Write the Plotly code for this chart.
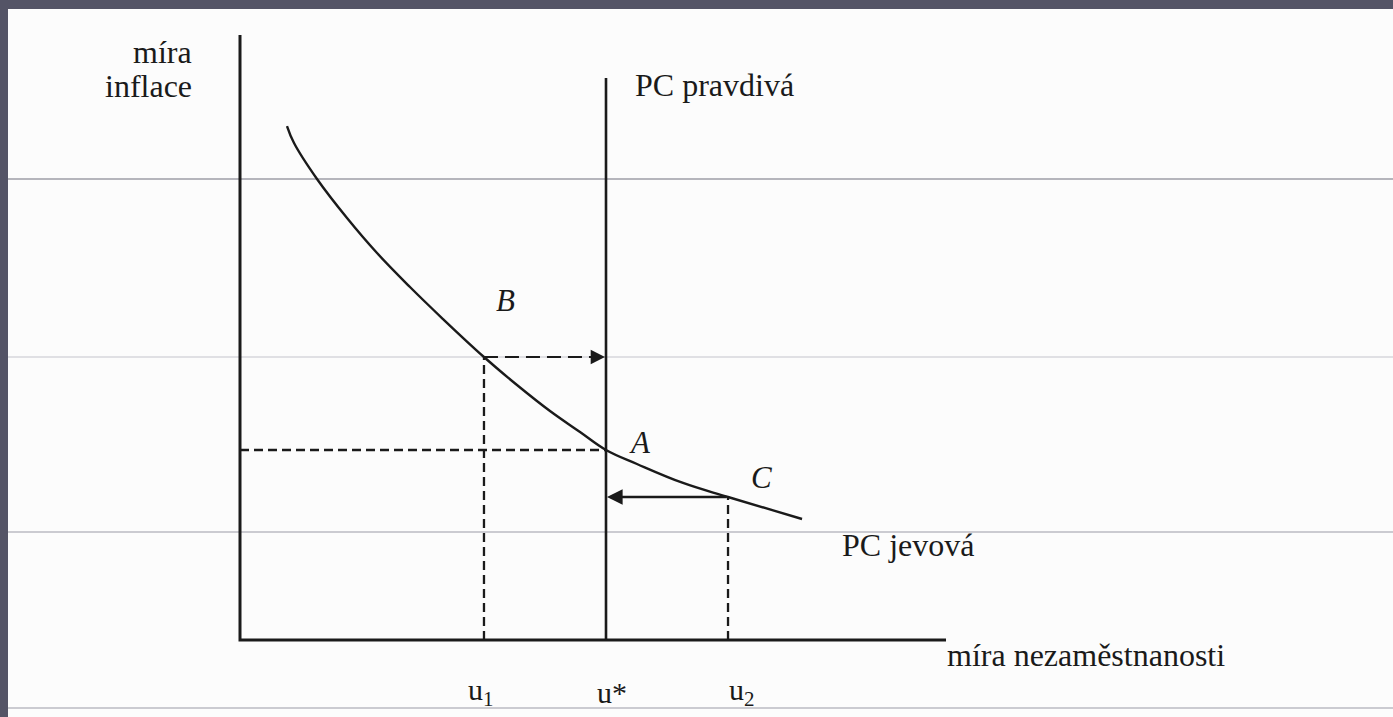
import plotly.graph_objects as go

# ---- data (economic units) ----
curve_u = [0.642, 0.738, 1.052, 1.462, 1.872, 2.322, 2.773, 3.333, 3.784, 4.235,
           4.645, 5.0, 5.423, 6.052, 6.667, 7.678]
curve_pi = [13.526, 13.079, 12.132, 11.105, 10.184, 9.289, 8.447, 7.447, 6.711, 6.026,
            5.474, 5.0, 4.632, 4.132, 3.763, 3.184]
u_labels = ["u<sub>1</sub>", "u*", "u<sub>2</sub>"]
u_values = [3.333, 5.0, 6.667]          # u1, u*, u2
pi_A = 5.0
pi_B = 7.447
pi_C = 3.763
y_axis_top = 15.92
x_axis_end = 9.645
pc_true_top = 14.79

W, H = 1393, 717
# data <-> pixel mapping (origin of the diagram at pixel 240, 640)
X0, KX = 240, 73.2
Y0, KY = 640, 38.0
x_range = [-X0 / KX, (W - X0) / KX]
y_range = [(Y0 - H) / KY, Y0 / KY]

INK = "#1a1a1a"
FONT = "Liberation Serif"

u1, ustar, u2 = u_values

fig = go.Figure()

# axes
fig.add_trace(go.Scatter(x=[0, 0, x_axis_end], y=[y_axis_top, 0, 0], mode="lines",
                         line=dict(color=INK, width=3), hoverinfo="skip"))
# true (vertical) Phillips curve
fig.add_trace(go.Scatter(x=[ustar, ustar], y=[0, pc_true_top], mode="lines",
                         line=dict(color=INK, width=2.6), hoverinfo="skip"))
# apparent Phillips curve
fig.add_trace(go.Scatter(x=curve_u, y=curve_pi, mode="lines",
                         line=dict(color=INK, width=2.4, shape="spline", smoothing=1.1),
                         hoverinfo="skip"))
# dashed guide lines
short_dash = "9px,5px"
fig.add_trace(go.Scatter(x=[u1, u1], y=[0, pi_B], mode="lines",
                         line=dict(color=INK, width=2.3, dash=short_dash), hoverinfo="skip"))
fig.add_trace(go.Scatter(x=[u2, u2], y=[0, pi_C], mode="lines",
                         line=dict(color=INK, width=2.3, dash=short_dash), hoverinfo="skip"))
fig.add_trace(go.Scatter(x=[0, ustar], y=[pi_A, pi_A], mode="lines",
                         line=dict(color=INK, width=2.3, dash=short_dash), hoverinfo="skip"))
fig.add_trace(go.Scatter(x=[u1, ustar - 0.2], y=[pi_B, pi_B], mode="lines",
                         line=dict(color=INK, width=2.2, dash="14px,7px"), hoverinfo="skip"))


def pxx(px):
    return px / W


def pxy(py):
    return 1 - py / H


annotations = []
# arrow heads
annotations.append(dict(x=ustar, y=pi_B, ax=ustar - 0.25, ay=pi_B, xref="x", yref="y",
                        axref="x", ayref="y", showarrow=True, arrowhead=2, arrowsize=1.3,
                        arrowwidth=2.2, arrowcolor=INK, text="", standoff=1))
annotations.append(dict(x=ustar, y=pi_C, ax=u2, ay=pi_C, xref="x", yref="y",
                        axref="x", ayref="y", showarrow=True, arrowhead=2, arrowsize=1.2,
                        arrowwidth=2.6, arrowcolor=INK, text="", standoff=1))


def label(text, px, py, xanchor="left", size=32):
    annotations.append(dict(x=pxx(px), y=pxy(py), xref="paper", yref="paper",
                            text=text, showarrow=False, xanchor=xanchor, yanchor="middle",
                            font=dict(family=FONT, size=size, color=INK)))


label("míra", 194, 52, "right")
label("inflace", 194, 86, "right")
label("PC pravdivá", 633, 85)
label("PC jevová", 840, 545)
label("míra nezaměstnanosti", 945, 655)
label("<i>B</i>", 505, 300, "center", 31)
label("<i>A</i>", 640, 442, "center", 31)
label("<i>C</i>", 761, 477, "center", 31)
u_label_px = [481, 612, 742]
for txt, px in zip(u_labels, u_label_px):
    label(txt, px, 692, "center", 30)

shapes = [
    # scanned page on the dark slide background
    dict(type="rect", xref="paper", yref="paper", x0=pxx(8), x1=1.0, y0=0, y1=pxy(9),
         fillcolor="#fcfcfc", line=dict(width=0), layer="below"),
]
for py, col in [(179, "#6e6e7c"), (357, "#c4c4cc"), (532, "#9a9aa6"), (708, "#9a9aa6")]:
    shapes.append(dict(type="line", xref="paper", yref="paper", x0=pxx(8), x1=1.0,
                       y0=pxy(py), y1=pxy(py), line=dict(color=col, width=1), layer="below"))

fig.update_layout(
    width=W, height=H, autosize=False,
    margin=dict(l=0, r=0, t=0, b=0),
    paper_bgcolor="#545466", plot_bgcolor="#545466",
    showlegend=False,
    xaxis=dict(range=x_range, visible=False, fixedrange=True),
    yaxis=dict(range=y_range, visible=False, fixedrange=True),
    annotations=annotations, shapes=shapes,
)

fig.write_html("out.html", config={"displayModeBar": False},
               post_script="document.body.style.margin='0px';document.body.style.overflow='hidden';")
